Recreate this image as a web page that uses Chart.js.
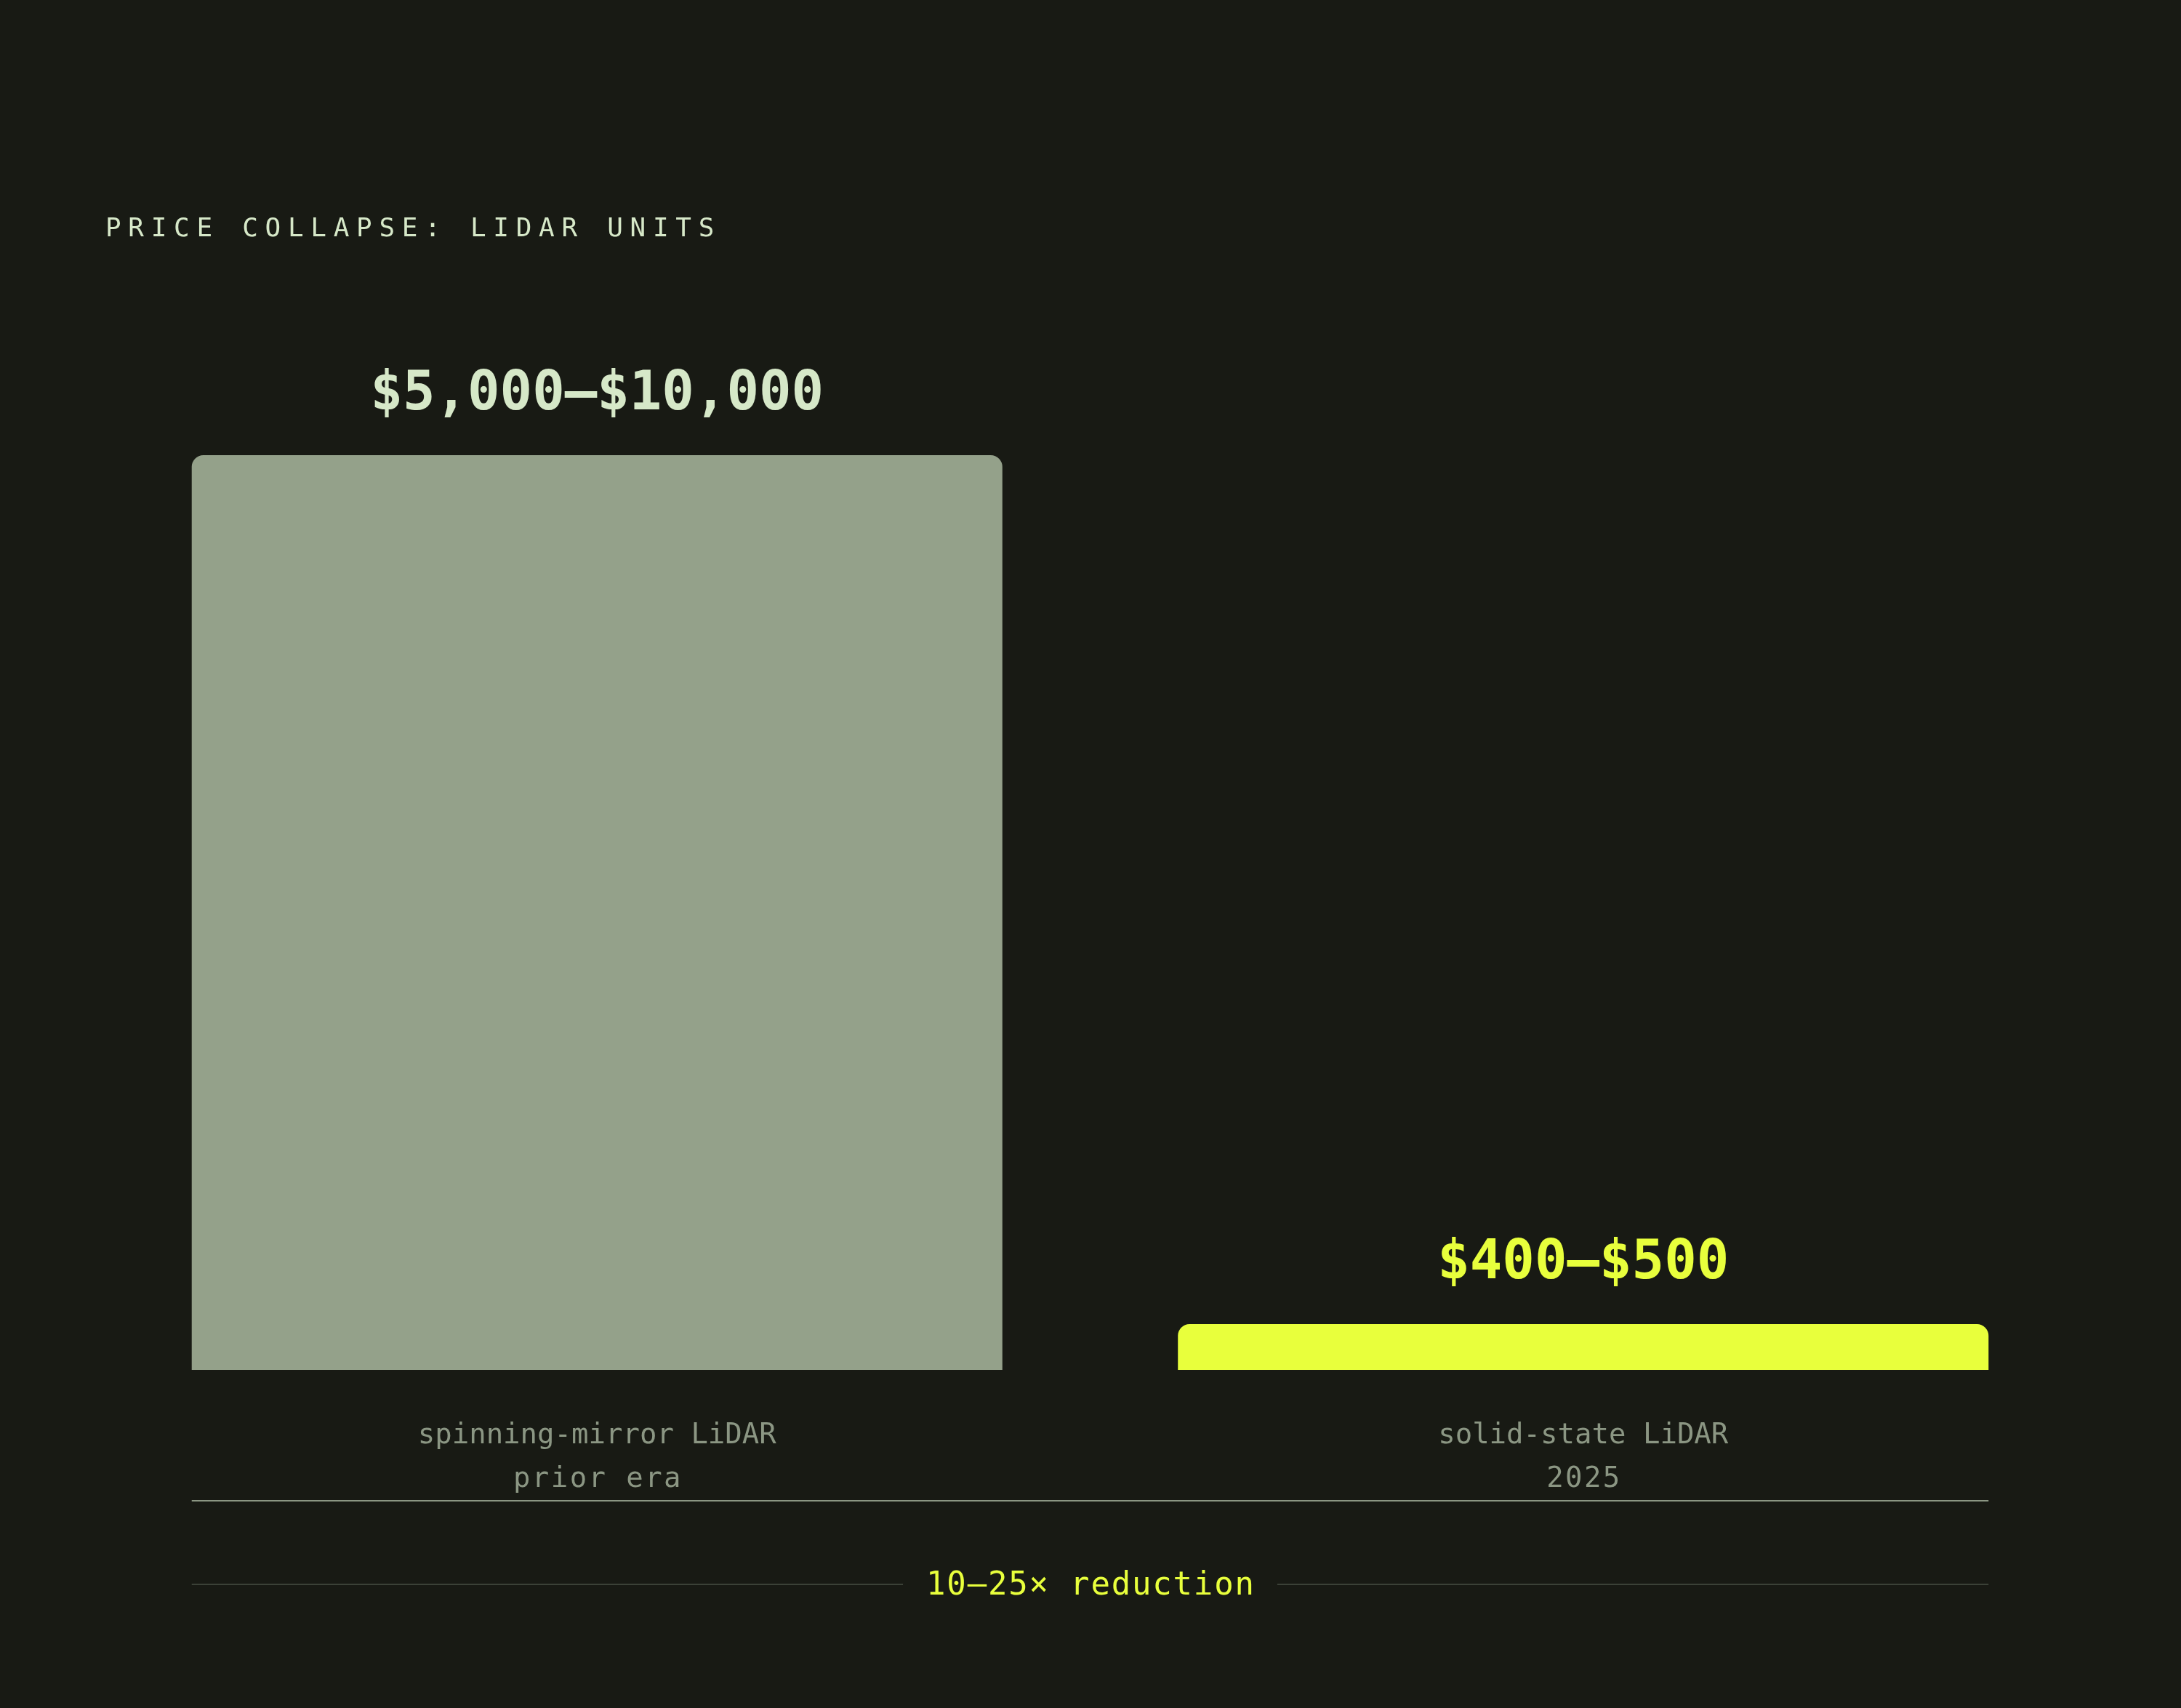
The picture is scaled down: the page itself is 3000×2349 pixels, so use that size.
<!DOCTYPE html>
<html>
<head>
<meta charset="utf-8">
<script src="https://cdn.jsdelivr.net/npm/chart.js@4.4.1/dist/chart.umd.min.js"></script>
<style>
  html, body { margin: 0; padding: 0; background: #181a14; }
  canvas { display: block; }
</style>
</head>
<body>
<canvas id="c" width="3000" height="2349"></canvas>
<script>
// ---- data ----
const chartTitle = 'PRICE COLLAPSE: LIDAR UNITS';
const categoryNames = ['spinning-mirror LiDAR', 'solid-state LiDAR'];
const categoryEras = ['prior era', '2025'];
const priceValues = [10000, 500];
const priceLabels = ['$5,000–$10,000', '$400–$500'];
const reductionNote = '10–25× reduction';

// ---- style ----
const BG = '#181a14';
const MONO = '"DejaVu Sans Mono", "Liberation Mono", monospace';
const barColors = ['#94a18a', '#e8ff3c'];
const valueColors = ['#d6e8c8', '#e8ff3c'];
const LABEL_COLOR = '#8b9683';
const LABEL_LINE = 60;

const overlay = {
  id: 'overlay',
  beforeDraw(chart) {
    const ctx = chart.ctx;
    ctx.save();
    ctx.fillStyle = BG;
    ctx.fillRect(0, 0, chart.width, chart.height);
    ctx.restore();
  },
  afterDraw(chart) {
    const ctx = chart.ctx;
    const meta = chart.getDatasetMeta(0);
    const bars = meta.data;
    const left = bars[0].x - bars[0].width / 2;
    const right = bars[bars.length - 1].x + bars[bars.length - 1].width / 2;
    const xScale = chart.scales.x;

    ctx.save();
    // title
    ctx.font = '36px ' + MONO;
    ctx.letterSpacing = '9.7px';
    ctx.fillStyle = '#d6e8c8';
    ctx.textAlign = 'left';
    ctx.textBaseline = 'alphabetic';
    ctx.fillText(chartTitle, 145, 325);
    ctx.letterSpacing = '0px';

    // value labels
    ctx.font = 'bold 74px ' + MONO;
    ctx.textAlign = 'center';
    bars.forEach((b, i) => {
      ctx.fillStyle = valueColors[i];
      ctx.fillText(priceLabels[i], b.x, b.y - 63);
    });

    // era sub-labels (second line under category tick labels)
    const firstLineY = xScale.top + xScale.options.ticks.padding + LABEL_LINE / 2;
    ctx.font = '39px ' + MONO;
    ctx.letterSpacing = '2.4px';
    ctx.fillStyle = LABEL_COLOR;
    ctx.textAlign = 'left';
    ctx.textBaseline = 'middle';
    categoryEras.forEach((era, i) => {
      const px = xScale.getPixelForTick(i);
      const w = ctx.measureText(era).width - 2.4;
      ctx.fillText(era, px - w / 2, firstLineY + LABEL_LINE);
    });
    ctx.letterSpacing = '0px';
    ctx.textBaseline = 'alphabetic';

    // axis line below category labels
    const axisY = xScale.bottom;
    ctx.strokeStyle = LABEL_COLOR;
    ctx.lineWidth = 2;
    ctx.beginPath();
    ctx.moveTo(left, axisY);
    ctx.lineTo(right, axisY);
    ctx.stroke();

    // reduction note with rule
    const noteY = axisY + 115;
    const mid = (left + right) / 2;
    ctx.font = '44px ' + MONO;
    ctx.letterSpacing = '1.8px';
    const tw = ctx.measureText(reductionNote).width - 1.8;
    ctx.fillStyle = '#e8ff3c';
    ctx.textAlign = 'left';
    ctx.fillText(reductionNote, mid - tw / 2, noteY + 14);
    ctx.letterSpacing = '0px';
    const gap = 32;
    ctx.strokeStyle = '#3b4137';
    ctx.lineWidth = 2;
    ctx.beginPath();
    ctx.moveTo(left, noteY);
    ctx.lineTo(mid - tw / 2 - gap, noteY);
    ctx.moveTo(mid + tw / 2 + gap, noteY);
    ctx.lineTo(right, noteY);
    ctx.stroke();
    ctx.restore();
  }
};

new Chart(document.getElementById('c'), {
  type: 'bar',
  data: {
    labels: categoryNames,
    datasets: [{
      data: priceValues,
      backgroundColor: barColors,
      borderWidth: 0,
      borderRadius: { topLeft: 16, topRight: 16, bottomLeft: 0, bottomRight: 0 },
      borderSkipped: 'bottom',
      barPercentage: 0.822,
      categoryPercentage: 1.0
    }]
  },
  options: {
    responsive: false,
    devicePixelRatio: 1,
    animation: false,
    layout: { padding: { left: 143, right: 144, top: 626, bottom: 285 } },
    plugins: {
      legend: { display: false },
      title: { display: false },
      tooltip: { enabled: false }
    },
    scales: {
      y: {
        display: false,
        min: 0,
        max: 10000
      },
      x: {
        grid: { display: false, drawTicks: false },
        border: { display: false },
        ticks: {
          color: LABEL_COLOR,
          font: { family: MONO, size: 39, lineHeight: LABEL_LINE + 'px' },
          padding: 61,
          maxRotation: 0,
          autoSkip: false
        },
        afterFit(scale) { scale.height = 180; }
      }
    }
  },
  plugins: [overlay]
});
</script>
</body>
</html>
